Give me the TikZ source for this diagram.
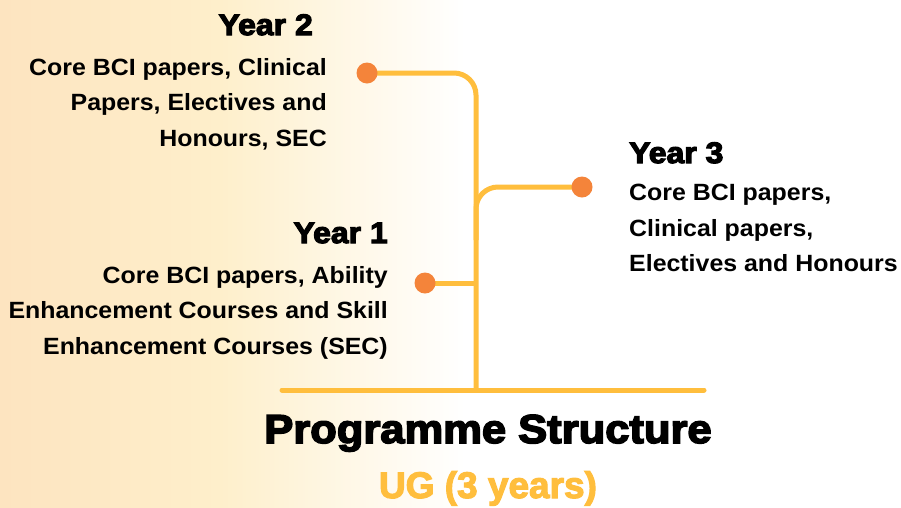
\documentclass[tikz,border=0pt]{standalone}
\usepackage{fontspec}
\setmainfont{Liberation Sans}
\newfontfamily\heavy[FakeBold=4,FakeStretch=1.08]{Liberation Sans Bold}
\newfontfamily\heavyug[FakeBold=3]{Liberation Sans Bold}
\newfontfamily\bodyfont[FakeStretch=1.06]{Liberation Sans Bold}
\usetikzlibrary{calc}
\definecolor{lineY}{HTML}{FFBE3D}
\definecolor{dotO}{HTML}{F4843A}
\definecolor{bgL}{HTML}{FDE4C0}
\definecolor{bgM}{HTML}{FEEFCB}
\tikzset{
  conn/.style={draw=lineY,line width=5pt},
  dot/.style={circle,fill=dotO,minimum size=21pt,inner sep=0pt},
  body/.style={inner sep=0pt,font=\fontsize{23.5}{35.5}\selectfont\bodyfont},
  yearhead/.style={inner sep=0pt,font=\fontsize{29.6}{34}\selectfont\heavy},
}
\begin{document}
\begin{tikzpicture}[x=1pt,y=-1pt]
\useasboundingbox (0,0) rectangle (901,507);
\shade[left color=bgL,right color=bgM,draw=none] (0,0) rectangle (220,507);
\shade[left color=bgM,right color=white,draw=none] (220,0) rectangle (465,507);
\fill[white] (465,0) rectangle (901,507);
% coordinates
\coordinate (c2) at (367,73);
\coordinate (c3) at (582,187);
\coordinate (c1) at (425,283);
\coordinate (bot) at (476,390);
\coordinate (bl) at (282,390);
\coordinate (br) at (704,390);
\coordinate (j3) at (476,240);
% connectors
\draw[conn,line cap=round] (bl) -- (br);
\draw[conn,rounded corners=22pt] (c2) -- (c2 -| bot) -- (bot);
\draw[conn,rounded corners=22pt] (j3) |- (c3);
\draw[conn] (c1) -- (c1 -| bot);
% dots
\node[dot] (d2) at (c2) {};
\node[dot] (d3) at (c3) {};
\node[dot] (d1) at (c1) {};
% texts
\node[yearhead,anchor=base east] (y2) at (313,35) {Year 2};
\node[body,anchor=north east,align=right] (t2) at (327,58) {Core BCI papers, Clinical\\Papers, Electives and\\Honours, SEC};
\node[yearhead,anchor=base east] (y1) at (388,243) {Year 1};
\node[body,anchor=north east,align=right] (t1) at (388,266) {Core BCI papers, Ability\\Enhancement Courses and Skill\\Enhancement Courses (SEC)};
\node[yearhead,anchor=base west] (y3) at (629,163) {Year 3};
\node[body,anchor=north west,align=left] (t3) at (629,184) {Core BCI papers,\\Clinical papers,\\Electives and Honours};
\node[inner sep=0pt,anchor=base,font=\fontsize{40.3}{44}\selectfont\heavy] (title) at (488,443) {Programme Structure};
\node[inner sep=0pt,anchor=base,text=lineY,font=\fontsize{37}{40}\selectfont\heavyug] (sub) at (488,498) {UG (3 years)};
\end{tikzpicture}
\end{document}
